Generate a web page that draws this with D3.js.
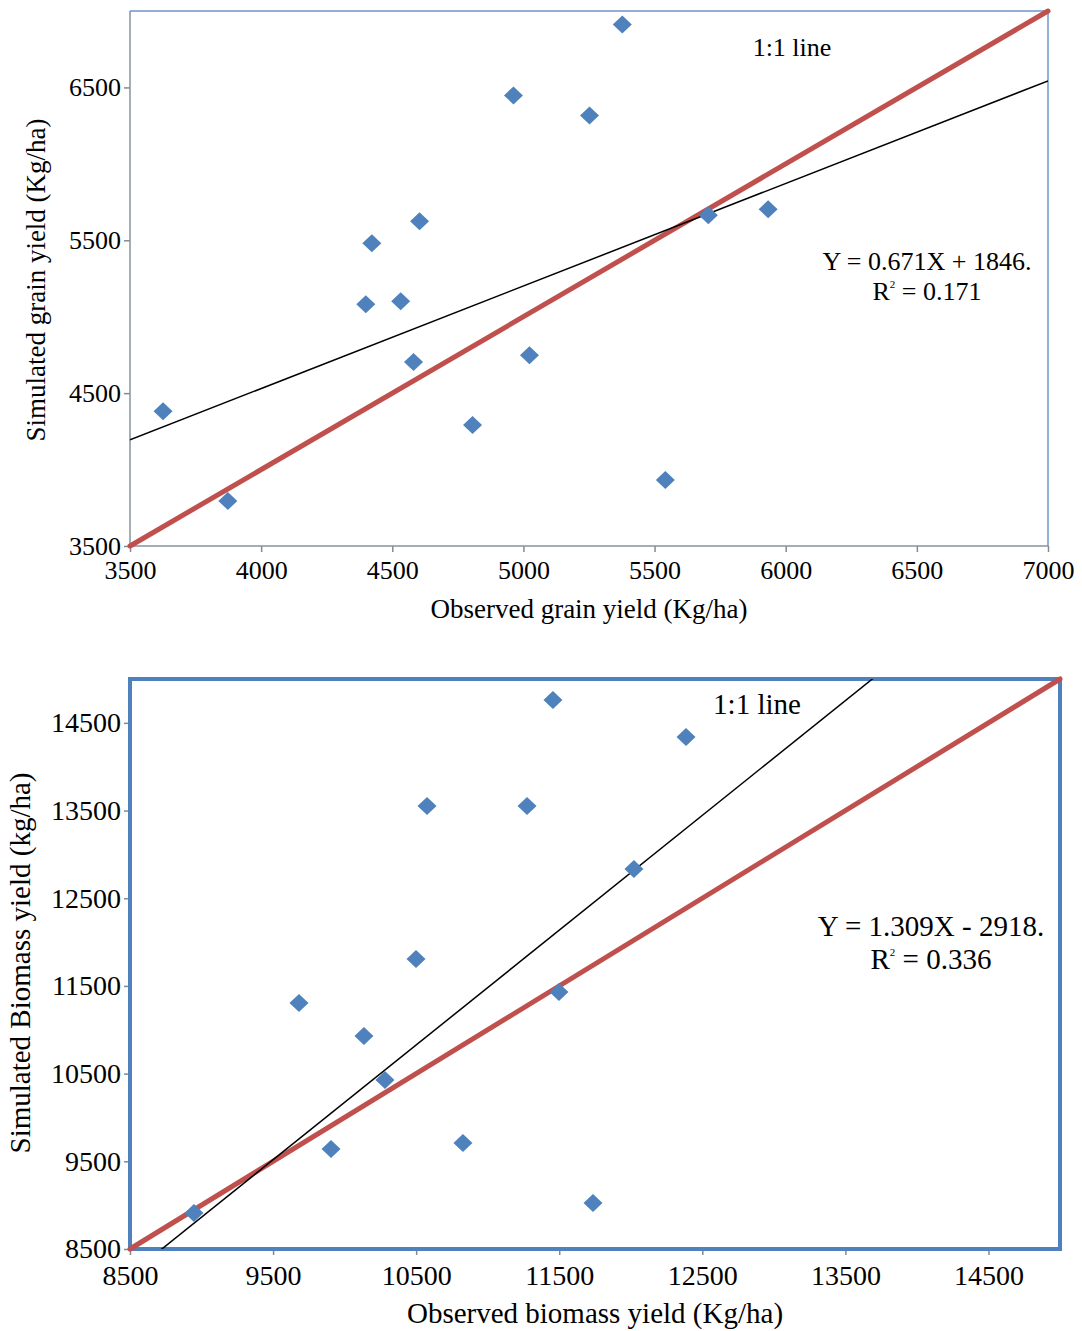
<!DOCTYPE html>
<html>
<head>
<meta charset="utf-8">
<script src="https://cdnjs.cloudflare.com/ajax/libs/d3/7.8.5/d3.min.js"></script>
<style>
  body { margin: 0; background: #fff; }
  svg text { font-family: "Liberation Serif", "Times New Roman", serif; fill: #000; }
</style>
</head>
<body>
<svg id="chart" width="1082" height="1331"></svg>
<script>
// grain yield panel (Kg/ha)
var grainObserved  = [3626, 3873, 4399, 4422, 4532, 4581, 4604, 4806, 4962, 5023, 5252, 5377, 5541, 5705, 5933];
var grainSimulated = [4382, 3795, 5082, 5480, 5101, 4703, 5624, 4291, 6448, 4748, 6317, 6912, 3931, 5663, 5703];
var grainXTicks = [3500, 4000, 4500, 5000, 5500, 6000, 6500, 7000];
var grainYTicks = [3500, 4500, 5500, 6500];
var grainFit = { slope: 0.671, intercept: 1846 };

// biomass yield panel (Kg/ha)
var biomassObserved  = [8947, 9681, 9905, 10135, 10282, 10499, 10576, 10827, 11275, 11456, 11498, 11736, 12022, 12386];
var biomassSimulated = [8910, 11305, 9640, 10929, 10427, 11807, 13552, 9709, 13552, 14761, 11431, 9025, 12833, 14338];
var biomassXTicks = [8500, 9500, 10500, 11500, 12500, 13500, 14500];
var biomassYTicks = [8500, 9500, 10500, 11500, 12500, 13500, 14500];
var biomassFit = { slope: 1.309, intercept: -2918 };

var BLUE = "#4f81bd", RED = "#c0504d", GREY = "#898989";

var svg = d3.select("#chart");

function drawPanel(cfg) {
  var x = d3.scaleLinear().domain(cfg.domain).range([cfg.left, cfg.right]);
  var y = d3.scaleLinear().domain(cfg.domain).range([cfg.bottom, cfg.top]);
  var g = svg.append("g");

  // axes (grey ticks outside)
  var xAxis = g.append("g")
    .attr("transform", "translate(0," + cfg.bottom + ")")
    .call(d3.axisBottom(x).tickValues(cfg.xTicks).tickSize(6).tickPadding(cfg.xPad).tickFormat(d3.format("d")));
  var yAxis = g.append("g")
    .attr("transform", "translate(" + cfg.left + ",0)")
    .call(d3.axisLeft(y).tickValues(cfg.yTicks).tickSize(6).tickPadding(3).tickFormat(d3.format("d")));
  [xAxis, yAxis].forEach(function(a) {
    a.select(".domain").remove();
    a.selectAll("line").attr("stroke", GREY).attr("stroke-width", 1.5);
    a.selectAll("text").attr("font-size", cfg.tickFont).attr("font-family", "Liberation Serif").attr("fill", "#000");
  });

  // frame
  if (cfg.thickFrame) {
    g.append("rect")
      .attr("x", cfg.left).attr("y", cfg.top)
      .attr("width", cfg.right - cfg.left).attr("height", cfg.bottom - cfg.top)
      .attr("fill", "none").attr("stroke", BLUE).attr("stroke-width", 4);
  } else {
    g.append("path")
      .attr("d", "M" + cfg.left + "," + cfg.top + "H" + cfg.right + "V" + cfg.bottom)
      .attr("fill", "none").attr("stroke", "#6f95c8").attr("stroke-width", 1.5);
    g.append("path")
      .attr("d", "M" + cfg.left + "," + cfg.top + "V" + cfg.bottom + "H" + cfg.right)
      .attr("fill", "none").attr("stroke", "#8a93a0").attr("stroke-width", 1.5);
  }

  var clipId = "clip" + cfg.id;
  g.append("clipPath").attr("id", clipId)
    .append("rect")
    .attr("x", cfg.left).attr("y", cfg.top)
    .attr("width", cfg.right - cfg.left).attr("height", cfg.bottom - cfg.top);

  // 1:1 line
  g.append("line")
    .attr("x1", x(cfg.domain[0])).attr("y1", y(cfg.domain[0]))
    .attr("x2", x(cfg.domain[1])).attr("y2", y(cfg.domain[1]))
    .attr("stroke", RED).attr("stroke-width", 5).attr("stroke-linecap", "round");

  // trend line
  var f = function(v) { return cfg.fit.slope * v + cfg.fit.intercept; };
  g.append("line")
    .attr("clip-path", "url(#" + clipId + ")")
    .attr("x1", x(cfg.domain[0])).attr("y1", y(f(cfg.domain[0])))
    .attr("x2", x(cfg.domain[1])).attr("y2", y(f(cfg.domain[1])))
    .attr("stroke", "#000").attr("stroke-width", 1.5);

  // points
  var pts = cfg.obs.map(function(o, i) { return [o, cfg.sim[i]]; });
  g.selectAll(".pt").data(pts).enter().append("path")
    .attr("class", "pt")
    .attr("d", "M0,-9L9.5,0L0,9L-9.5,0Z")
    .attr("transform", function(d) { return "translate(" + x(d[0]) + "," + y(d[1]) + ")"; })
    .attr("fill", BLUE);

  // labels
  g.append("text").attr("x", cfg.lineLabel[0]).attr("y", cfg.lineLabel[1])
    .attr("text-anchor", "middle").attr("font-size", cfg.noteFont).text("1:1 line");

  g.append("text").attr("x", cfg.eq[0]).attr("y", cfg.eq[1])
    .attr("text-anchor", "middle").attr("font-size", cfg.noteFont).text(cfg.eqText);
  var r2 = g.append("text").attr("x", cfg.eq[0]).attr("y", cfg.eq[1] + cfg.eqGap)
    .attr("text-anchor", "middle").attr("font-size", cfg.noteFont);
  r2.append("tspan").text("R");
  r2.append("tspan").attr("font-size", 11).attr("dy", -cfg.noteFont * 0.45).text("2");
  r2.append("tspan").attr("dy", cfg.noteFont * 0.45).text(" = " + cfg.r2Text);

  g.append("text").attr("x", (cfg.left + cfg.right) / 2).attr("y", cfg.xTitleY)
    .attr("text-anchor", "middle").attr("font-size", cfg.titleFont).text(cfg.xTitle);
  g.append("text")
    .attr("transform", "translate(" + cfg.yTitleX + "," + cfg.yTitleMid + ") rotate(-90)")
    .attr("text-anchor", "middle").attr("dominant-baseline", "middle")
    .attr("font-size", cfg.titleFont).text(cfg.yTitle);
}

drawPanel({
  id: 1, domain: [3500, 7000], left: 130, right: 1048, top: 11, bottom: 546,
  xTicks: grainXTicks, yTicks: grainYTicks, obs: grainObserved, sim: grainSimulated, fit: grainFit,
  thickFrame: false, tickFont: 26, noteFont: 26, titleFont: 27, xPad: 9,
  lineLabel: [792, 56], eq: [927, 270], eqGap: 30, eqText: "Y = 0.671X + 1846.", r2Text: "0.171",
  xTitle: "Observed grain yield (Kg/ha)", xTitleY: 618,
  yTitle: "Simulated grain yield (Kg/ha)", yTitleX: 39, yTitleMid: 280
});

drawPanel({
  id: 2, domain: [8500, 15000], left: 130, right: 1060, top: 679, bottom: 1249,
  xTicks: biomassXTicks, yTicks: biomassYTicks, obs: biomassObserved, sim: biomassSimulated, fit: biomassFit,
  thickFrame: true, tickFont: 28, noteFont: 29, titleFont: 29, xPad: 10,
  lineLabel: [757, 714], eq: [931, 936], eqGap: 33, eqText: "Y = 1.309X - 2918.", r2Text: "0.336",
  xTitle: "Observed biomass yield (Kg/ha)", xTitleY: 1323,
  yTitle: "Simulated Biomass yield (kg/ha)", yTitleX: 23, yTitleMid: 963
});
</script>
</body>
</html>
